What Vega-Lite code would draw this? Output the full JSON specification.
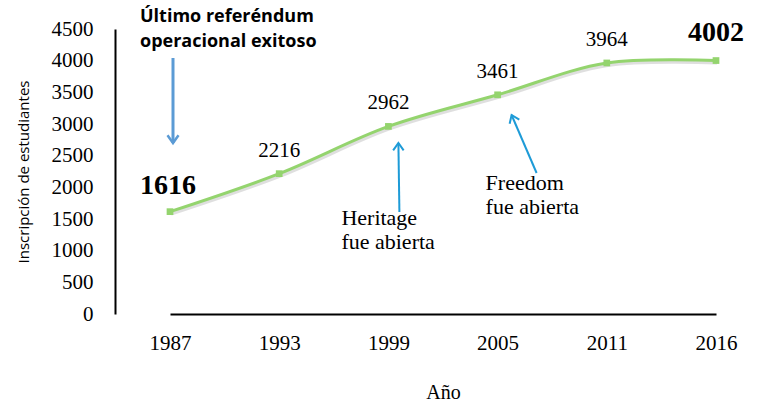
{
  "$schema": "https://vega.github.io/schema/vega-lite/v6.json",
  "width": 635,
  "height": 285,
  "autosize": {"type": "none"},
  "padding": {"left": 115, "top": 29, "right": 10, "bottom": 92},
  "background": "white",
  "config": {"view": {"stroke": null}},
  "data": {"values": [
    {"year": "1987", "students": 1616},
    {"year": "1993", "students": 2216},
    {"year": "1999", "students": 2962},
    {"year": "2005", "students": 3461},
    {"year": "2011", "students": 3964},
    {"year": "2016", "students": 4002}
  ]},
  "encoding": {
    "x": {"field": "year", "type": "ordinal", "sort": null,
      "scale": {"type": "point", "range": [55, 601], "padding": 0},
      "axis": {"title": "Año", "titleFont": "Liberation Serif", "titleFontSize": 20, "titleFontWeight": "normal", "titleColor": "black", "titlePadding": 29,
        "labelFont": "Liberation Serif", "labelFontSize": 21, "labelColor": "black", "labelAngle": 0, "labelPadding": 18,
        "ticks": false, "domainColor": "black", "domainWidth": 2, "grid": false}},
    "y": {"field": "students", "type": "quantitative",
      "scale": {"domain": [0, 4500], "nice": false},
      "axis": {"title": "Inscripción de estudiantes", "titleFont": "Open Sans", "titleFontSize": 15, "titleFontWeight": "normal", "titleColor": "black", "titlePadding": 20,
        "labelFont": "Liberation Serif", "labelFontSize": 21, "labelColor": "black", "labelPadding": 22, "format": "d", "values": [0,500,1000,1500,2000,2500,3000,3500,4000,4500],
        "ticks": false, "domainColor": "black", "domainWidth": 2, "grid": false}}
  },
  "layer": [
    {"mark": {"type": "line", "interpolate": "catmull-rom", "color": "#7f7f7f", "opacity": 0.25, "strokeWidth": 4, "xOffset": 1, "yOffset": 2}},
    {"mark": {"type": "line", "interpolate": "catmull-rom", "color": "#94d46e", "strokeWidth": 3}},
    {"mark": {"type": "square", "color": "#94d46e", "opacity": 1, "size": 45}},
    {"transform": [{"filter": "datum.year != '1987' && datum.year != '2016'"}],
     "mark": {"type": "text", "font": "Liberation Serif", "fontSize": 21, "color": "black", "dy": -23, "baseline": "middle"},
     "encoding": {"text": {"field": "students"}}},
    {"transform": [{"filter": "datum.year == '1987'"}],
     "mark": {"type": "text", "font": "Liberation Serif", "fontSize": 28, "fontWeight": "bold", "color": "black", "dy": -26, "dx": -2, "baseline": "middle"},
     "encoding": {"text": {"field": "students"}}},
    {"transform": [{"filter": "datum.year == '2016'"}],
     "mark": {"type": "text", "font": "Liberation Serif", "fontSize": 28, "fontWeight": "bold", "color": "black", "dy": -28, "baseline": "middle"},
     "encoding": {"text": {"field": "students"}}},
    {"data": {"values": [{"year": "1987", "y1": 4042, "y2": 2700}]},
     "mark": {"type": "rule", "color": "#5b9bd5", "strokeWidth": 3, "xOffset": 3, "x2Offset": 3},
     "encoding": {"x": {"field": "year", "type": "ordinal"}, "x2": {"field": "year"}, "y": {"field": "y1", "type": "quantitative"}, "y2": {"field": "y2"}}},
    {"data": {"values": [{"year": "1987", "y2": 2700}]},
     "mark": {"type": "point", "shape": "M-1,-1.4L0,0L1,-1.4", "filled": false, "color": "#5b9bd5", "strokeWidth": 2.5, "size": 121, "opacity": 1, "xOffset": 3},
     "encoding": {"x": {"field": "year", "type": "ordinal"}, "y": {"field": "y2", "type": "quantitative"}}},
    {"data": {"values": [{"year": "1999", "y1": 1610, "y2": 2700}]},
     "mark": {"type": "rule", "color": "#1e9bd7", "strokeWidth": 2, "xOffset": 11, "x2Offset": 10},
     "encoding": {"x": {"field": "year", "type": "ordinal"}, "x2": {"field": "year"}, "y": {"field": "y1", "type": "quantitative"}, "y2": {"field": "y2"}}},
    {"data": {"values": [{"year": "1999", "y2": 2700}]},
     "mark": {"type": "point", "shape": "M-1,1.4L0,0L1,1.4", "filled": false, "color": "#1e9bd7", "strokeWidth": 2, "size": 110, "opacity": 1, "xOffset": 10},
     "encoding": {"x": {"field": "year", "type": "ordinal"}, "y": {"field": "y2", "type": "quantitative"}}},
    {"data": {"values": [{"year": "2005", "y1": 2226, "y2": 3142}]},
     "mark": {"type": "rule", "color": "#1e9bd7", "strokeWidth": 2, "xOffset": 39, "x2Offset": 14},
     "encoding": {"x": {"field": "year", "type": "ordinal"}, "x2": {"field": "year"}, "y": {"field": "y1", "type": "quantitative"}, "y2": {"field": "y2"}}},
    {"data": {"values": [{"year": "2005", "y2": 3142}]},
     "mark": {"type": "point", "shape": "M-1,1.4L0,0L1,1.4", "filled": false, "color": "#1e9bd7", "strokeWidth": 2, "size": 110, "opacity": 1, "xOffset": 14, "angle": 337},
     "encoding": {"x": {"field": "year", "type": "ordinal"}, "y": {"field": "y2", "type": "quantitative"}}},
    {"data": {"values": [{"year": "1987", "y": 4689, "label": "Último referéndum\noperacional exitoso"}]},
     "mark": {"type": "text", "font": "Open Sans", "fontSize": 18, "fontWeight": "bold", "color": "black", "align": "left", "baseline": "middle", "xOffset": -30, "lineBreak": "\n", "lineHeight": 25},
     "encoding": {"x": {"field": "year", "type": "ordinal"}, "y": {"field": "y", "type": "quantitative"}, "text": {"field": "label"}}},
    {"data": {"values": [{"year": "1999", "y": 1516, "label": "Heritage\nfue abierta"}]},
     "mark": {"type": "text", "font": "Liberation Serif", "fontSize": 22, "color": "black", "align": "left", "baseline": "middle", "xOffset": -47, "lineBreak": "\n", "lineHeight": 24},
     "encoding": {"x": {"field": "year", "type": "ordinal"}, "y": {"field": "y", "type": "quantitative"}, "text": {"field": "label"}}},
    {"data": {"values": [{"year": "2005", "y": 2070, "label": "Freedom\nfue abierta"}]},
     "mark": {"type": "text", "font": "Liberation Serif", "fontSize": 22, "color": "black", "align": "left", "baseline": "middle", "xOffset": -12, "lineBreak": "\n", "lineHeight": 24},
     "encoding": {"x": {"field": "year", "type": "ordinal"}, "y": {"field": "y", "type": "quantitative"}, "text": {"field": "label"}}}
  ]
}
